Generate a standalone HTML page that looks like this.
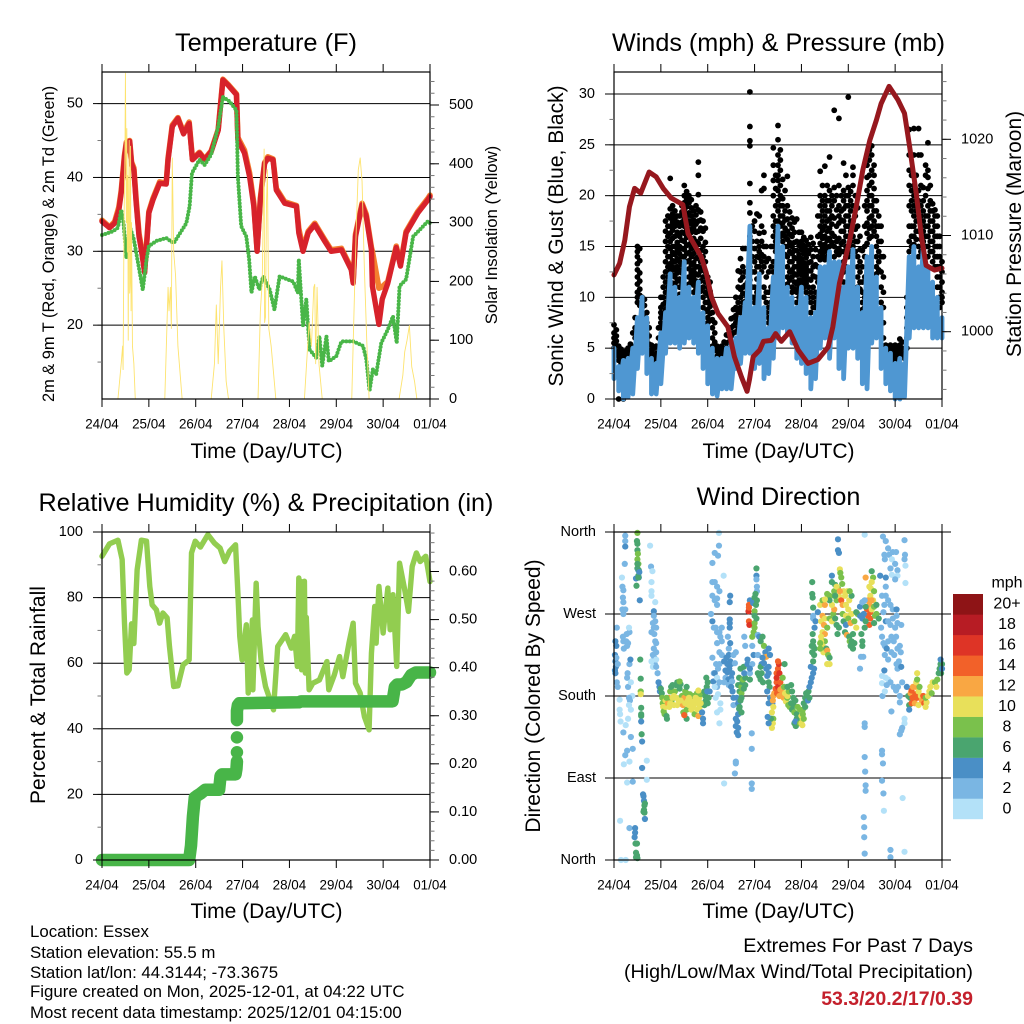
<!DOCTYPE html>
<html lang="en">
<head>
<meta charset="utf-8">
<title>Essex station meteogram</title>
<style>
html,body{margin:0;padding:0;background:#fff}
svg{display:block;font-family:"Liberation Sans",Arial,sans-serif;fill:#000}
</style>
</head>
<body>
<svg id="chart" xmlns="http://www.w3.org/2000/svg" width="1024" height="1024" viewBox="0 0 1024 1024">
<rect x="0" y="0" width="1024" height="1024" fill="#fff"/>
<text x="266" y="51" font-size="25.4" text-anchor="middle">Temperature (F)</text>
<text x="778.5" y="51" font-size="25.2" text-anchor="middle">Winds (mph) &amp; Pressure (mb)</text>
<text x="266" y="511" font-size="25.2" text-anchor="middle">Relative Humidity (%) &amp; Precipitation (in)</text>
<text x="778.5" y="505" font-size="25.2" text-anchor="middle">Wind Direction</text>
<text transform="translate(54,244) rotate(-90)" font-size="16.4" text-anchor="middle">2m &amp; 9m T (Red, Orange) &amp; 2m Td (Green)</text>
<text transform="translate(497,235) rotate(-90)" font-size="16.7" text-anchor="middle">Solar Insolation (Yellow)</text>
<text transform="translate(563,236) rotate(-90)" font-size="21" text-anchor="middle">Sonic Wind &amp; Gust (Blue, Black)</text>
<text transform="translate(1021,234) rotate(-90)" font-size="21" text-anchor="middle">Station Pressure (Maroon)</text>
<text transform="translate(45,695) rotate(-90)" font-size="21" text-anchor="middle">Percent &amp; Total Rainfall</text>
<text transform="translate(540,696) rotate(-90)" font-size="21" text-anchor="middle">Direction (Colored By Speed)</text>
<text x="266.5" y="458" font-size="21" text-anchor="middle">Time (Day/UTC)</text>
<text x="778.5" y="458" font-size="21" text-anchor="middle">Time (Day/UTC)</text>
<text x="266.5" y="918" font-size="21" text-anchor="middle">Time (Day/UTC)</text>
<text x="778.5" y="918" font-size="21" text-anchor="middle">Time (Day/UTC)</text>
<g font-size="16.85">
<text x="30" y="937">Location: Essex</text>
<text x="30" y="958">Station elevation: 55.5 m</text>
<text x="30" y="978">Station lat/lon: 44.3144; -73.3675</text>
<text x="30" y="997">Figure created on Mon, 2025-12-01, at 04:22 UTC</text>
<text x="30" y="1018">Most recent data timestamp: 2025/12/01 04:15:00</text>
</g>
<g text-anchor="end">
<text x="973" y="952" font-size="19.7">Extremes For Past 7 Days</text>
<text x="973" y="978" font-size="19.7">(High/Low/Max Wind/Total Precipitation)</text>
<text x="973" y="1005" font-size="19.5" font-weight="bold" fill="#c4202c">53.3/20.2/17/0.39</text>
</g>
</svg>
<script>
const dayLabels = ['24/04','25/04','26/04','27/04','28/04','29/04','30/04','01/04'];

const tempTicks = [20,30,40,50];
const solarTicks = [0,100,200,300,400,500];
const windTicks = [0,5,10,15,20,25,30];
const pressureTicks = [1000,1010,1020];
const humidityTicks = [0,20,40,60,80,100];
const rainTicks = [0,0.1,0.2,0.3,0.4,0.5,0.6];
const directionTicks = [0,90,180,270,360];
const directionLabels = ['North','East','South','West','North'];
const speedLabels = ['0','2','4','6','8','10','12','14','16','18','20+'];
const speedColors = ['#b3e1f8','#7ab6e3','#4a8fc6','#4aa56f','#7ac14c','#e8e05a','#f9a743','#f26129','#de3426','#b71c24','#8e1416'];

const redTime = [0,.16,.27,.36,.41,.48,.52,.59,.63,.68,.73,.79,.84,.91,.95,1,1.09,1.23,1.37,1.41,1.5,1.62,1.74,1.86,1.93,2.08,2.19,2.33,2.48,2.58,2.69,2.87,2.9,3.04,3.15,3.24,3.31,3.38,3.47,3.54,3.65,3.72,3.9,4.15,4.2,4.29,4.4,4.54,4.75,4.89,5.11,5.32,5.36,5.41,5.55,5.64,5.75,5.77,5.91,5.98,6.1,6.28,6.37,6.49,6.74,6.96,7];
const redTemp = [34.05,33.2,33.8,35.6,37.9,42.8,44.6,44.9,41.9,41,36.5,32,30.2,27.1,30.7,35.2,37,39.2,39.1,42.4,46.9,48,45.9,47.3,42.4,43.3,42.4,43.5,46.4,53.2,52.5,51.2,45.1,43.3,40.1,36.1,30,37,41.9,42.6,42.4,38.3,36.5,36.1,32.5,30,32.5,33.6,31.4,30,30.2,27.5,25.7,32,36.3,34.7,30.2,25.3,20.1,23.5,25.7,30.5,28,32.5,35.2,37,37.4];
const orangeTime = [0,.16,.27,.36,.41,.48,.52,.59,.63,.68,.73,.79,.84,.91,.95,1,1.09,1.23,1.37,1.41,1.5,1.62,1.74,1.86,1.93,2.08,2.19,2.33,2.48,2.58,2.69,2.87,2.9,3.04,3.15,3.24,3.31,3.38,3.47,3.54,3.65,3.72,3.9,4.15,4.2,4.29,4.4,4.54,4.75,4.89,5.11,5.32,5.36,5.41,5.55,5.64,5.75,5.77,5.91,5.98,6.1,6.28,6.37,6.49,6.74,6.96,7];
const orangeTemp = [34.2,33.3,34,36,38.2,43,44.8,45,42.1,41.3,36.9,32.4,30.5,27.4,30.9,35.4,37.2,39.4,39.2,42.6,47.1,48.1,46.1,47.5,42.5,43.4,42.5,43.6,46.5,53.3,52.6,51.3,45.4,43.7,40.6,36.5,30.3,37.2,42,42.8,42.5,38.5,36.7,36.2,33.1,30.3,32.7,33.8,31.6,30.2,30.4,27.7,25.9,32.3,36.5,35,30.5,30,25,25.2,25.9,30.7,28.2,32.7,35.4,37.2,37.6];
const dewTime = [0,.23,.34,.41,.46,.52,.59,.68,.77,.87,.95,1,1.16,1.37,1.53,1.69,1.8,1.87,1.92,2.08,2.19,2.33,2.48,2.58,2.72,2.87,2.9,2.97,3.08,3.14,3.19,3.26,3.36,3.44,3.58,3.68,3.79,4.08,4.18,4.2,4.29,4.36,4.43,4.57,4.64,4.7,4.79,4.84,5,5.11,5.36,5.57,5.64,5.71,5.78,5.85,5.96,6.1,6.21,6.29,6.35,6.49,6.64,6.78,6.96,7];
const dewTemp = [32.2,32.7,33.2,35.6,33.8,29.1,33.4,31.6,28.4,24.8,28.9,30.7,31.4,31.8,31.1,32.7,33.8,36.1,40.6,42.4,41.7,43.1,46.9,50.9,50.3,49.1,40.1,33.4,32,28.9,24.4,26.6,24.8,26.6,24.8,22.1,26.6,25.9,24.4,28.9,19.9,23.5,16.7,15.6,18.5,14.5,18.5,15.1,15.8,17.8,17.8,17.2,15.4,11.1,14,13.3,17.6,19.4,21.2,17.6,25.3,26.2,32,32.9,34.1,33.8];
const solarTime = [.34,.41,.44,.45,.47,.49,.5,.52,.53,.54,.55,.56,.57,.58,.59,.6,.61,.62,.63,.65,.68,.71,1.34,1.41,1.43,1.46,1.48,1.5,1.53,1.57,1.62,1.71,2.33,2.4,2.44,2.48,2.53,2.56,2.6,2.65,2.7,3.33,3.38,3.42,3.46,3.47,3.49,3.51,3.53,3.56,3.61,3.71,4.32,4.42,4.47,4.52,4.54,4.56,4.59,4.63,4.7,5.33,5.39,5.43,5.47,5.51,5.55,5.6,5.65,5.7,6.34,6.42,6.46,6.51,6.56,6.61,6.67,6.72,7];
const solarValue = [0,60,90,50,300,420,554,300,460,250,380,100,320,440,180,200,430,150,300,90,60,0,0,190,150,190,120,410,250,210,90,0,0,60,160,60,190,235,120,30,0,0,150,200,425,130,140,330,390,120,90,0,0,130,90,190,195,60,190,60,0,0,185,300,390,410,370,220,100,0,0,40,80,100,125,55,30,0,0];

const pressureTime = [0,.12,.23,.33,.44,.57,.75,.9,1.05,1.22,1.47,1.58,1.86,1.97,2.08,2.22,2.43,2.57,2.72,2.84,2.89,2.97,3.11,3.19,3.36,3.45,3.57,3.75,3.93,4.14,4.35,4.57,4.67,4.81,5.03,5.17,5.31,5.46,5.6,5.7,5.87,6.06,6.2,6.31,6.45,6.56,6.66,6.84,7];
const pressureValue = [1005.9,1007.1,1009.5,1013,1014.9,1014.4,1016.6,1016.1,1014.9,1013.9,1013.2,1010.2,1007.8,1006.1,1003.6,1001.9,1000.5,997.4,995.3,993.8,995,997.4,998.1,999,999.1,999.8,999,1000,998.1,996.7,997.1,998.4,1000.5,1005,1009.5,1013,1016.8,1019.9,1022,1023.7,1025.5,1024.1,1022.7,1019.2,1014.4,1009.9,1006.9,1006.4,1006.6];
const windColumnDays = 0.1;
const windHigh = [5,3.2,3.8,4,5,8,10,8,4,3.5,6.5,8.5,12.3,11,10,13.5,11,10,11.5,8.5,7.2,5,4,4,5,5.5,6,8,9.5,17,9,12.3,9,7,12,17,15,11,10,9,11,10,8,8.5,13,13,14.5,13.5,13.5,11,13,14.7,11,8.5,14,15,12,9,5,4.5,3.5,4,3.5,14,15,13,15,13,11.5,10,8];
const windLow = [2,.8,0,.2,.5,3,4.5,2.5,.5,.5,1.5,4.5,5.5,5.5,5,5.5,6,5.5,4.5,3,1.5,.5,.3,1,1,1,3,3.5,4.5,4.5,3,3.5,2,2.5,4,6,7,6.5,5.5,4,3.5,2.5,1,2,5,6,4,6,3,2,5,5,4,1.5,1,5.5,6,3,1.5,.8,0,0,.2,6,7,7,7,7,6,6,6];
const gustColumns = [
[7.3,6.5,6,5.5,5],[5.2,4.7,4.2,3.8,0],[4.5,4,3.5,0],[5,4.5,4,3.5],[6.5,5,4.5],
[15,14.5,14,13.3,12.7,12,11.3,10.5,10,9.5],[10,9.5,9,8.5,8,7.5],[8.5,7.5,6.5,5.8,5],[5.3,4.8,4.2,3.7],[5.2,4.5,4,3.5],
[10,9,8.5,8,7.5,7],[17.5,16.5,15.5,14.5,13.5,12.5,11.5,10.5,9.5,8.8],[21.7,18.7,17.8,17,16.3,15.5,14.8,14,13.3,12.6],[18.5,17.8,17,16,15,14.2,13.5,12.7,12,11.3],[18,17,16,15,14.3,13.5,12.7,11.8,11,10.3],
[21,20,19.3,18.6,17.7,17,16.3,15.5,14.7,14],[20,19.3,18.3,17.5,16.7,16,15.2,14.4,13.6,12.8,12,11.3],[18.5,17.6,16.8,15.8,15,14.3,13.4,12.7,12,11.2,10.5],[23.3,22,20.1,18.6,17.5,16.5,15.3,14,13,12.2],[17.5,16.5,15,14,13,12,11,10,9],
[12,11,10.3,9.5,8.8,8,7.5],[9.5,8.5,7.8,7,6,5.2],[5.2,4.7,4.2,3.6,3.2],[5.2,4.6,4],[6.3,5.5,5],
[7.9,7,6.2],[10,9,8.2,7.5,6.6],[13.8,12.5,11.7,10.8,10,9,8.5],[14.8,12.5,11.2,10.3,9.6],[30.2,26.8,25.4,24.9,21.2,19.3,18.3,16,15,13,11.7],
[17.5,16.5,14.8,13.5,12.5,11,10,9.5],[18,16.3,15,14.5,13.9,13],[22,20.7,16.4,15,14,13,11,10],[13.8,12.5,10.5,9,8,7.5],[24.7,23,21.5,20,18,17,16,15,13.5,12.5],
[26.9,25.5,24,23,22,21.5,20.5,19.5,18.5,17.5],[21.6,19.7,19,18,17.3,16.3,15.5],[21.9,19,17.7,16.5,15.7,15,14,13,12,11.3],[17.8,16.8,16,15,14.3,13.5,12.7,12,11,10.5],[17.7,15.5,14.6,13.8,13,12.2,11.3,10.5,9.5],
[16.4,15.5,14.7,13.8,13,12.2,11.4],[15.6,14.7,13.9,13,12.2,11.4,10.5],[15.9,14.7,13.5,12.6,11.7,10.5,9.5,8.5],[14.7,13.2,12,10.5,9.5,9],[22.4,20,19,18,17,16.2,15.3,14.5,13.7],
[22.9,20,19,18,17,16,15.2,14.5,13.7],[23.8,20.5,19.5,18.5,17.7,16.8,15.8,15],[28.4,20.8,19.5,17.8,16,15,14],[27.6,21,19,18,17.3,15.8,14.8,14.2],[23.2,20.5,19.5,18.7,17.5,16.5,15.5,14.5,13.5,12.5,11.5],
[29.7,20.8,20,19,18,17,16,15,14],[22.8,22,21,19,17.5,16,15],[18.8,17,15.5,14,13,12,11,10.5],[14.6,13,11.5,10.5,9.5,8.8],[24,23,21.8,20.5,19.5,18.5,17.3,16.3,15.3],
[24.9,24,22.5,21.3,20,19,18,17,16],[19.5,18.5,17,16,15,14,13,12.3],[17,15.5,14,12.5,11,9.5],[5.3,4.8,4.2,3.6],[5.3,4.6,4],
[5.3,4.6,4],[5.9,5.3,4.7],[4.5,4],[26.5,24,22.5,21,19,17,15.5,14.5],[26.6,24,21,20,19,18,17,16,15.2],
[26.6,24,20.5,19.5,18,16.5,15,14],[20.8,19.5,18.5,17.5,16.5,15.5],[25.2,22.5,21.8,20.7,19,18,17,16,15,14],[19.2,18.5,17.5,16.5,15.5,14.5,13.5],[18,17,16,15,14,13,12,11],
[13.5,12.5,11.5,10.5,10,9.5]
];
/* Gust readings falling half-way between the columns above */
const gustMidColumns = [
[6.8,6.2,5.7,5.2,4.6],[4.9,4.4,3.9,3.4],[4.7,4.2,3.7,3.2],[5.4,4.6,3.9],[8,7,6,5.2],
[14.8,13.6,12.4,11.6,10.8,10.2,9.2],[9.8,9.2,8.2,7.2,6.6],[7,6.2,5.4,4.6],[5,4.4,3.9],[7,6,5,4.2],
[12,11,10,9.3,8.3,7.3],[18,17,16,15,14,13,12,11,10,9],[19,18.2,17.4,16.6,15.8,15,14.4,13.6,13,12.2,11.4],[18,17.4,16.4,15.4,14.6,13.8,13,12.4,11.6],[19,18.4,17.4,16.4,15.6,14.8,14,13.2,12.4,11.4],
[20.4,19.6,18.9,18,17.3,16.6,15.9,15.1,14.3,13.5],[19.6,18.8,18,17.2,16.4,15.6,14.8,14,13.2,12.4,11.6],[19,18.1,17.2,16.4,15.5,14.7,13.8,13,12.3,11.6,10.8],[18.4,17.6,16.8,15.8,14.6,13.5,12.6,11.6,10.6],[16.8,15.4,14.5,13.5,12.5,11.5,10.5,9.5,8.6],
[11.5,10.6,9.9,9.1,8.4,7.7],[7.5,6.5,5.6,4.8],[5,4.4,3.8],[5.6,4.9,4.3],[7,6.2,5.6],
[8.8,8,7.2,6.5],[12.6,11,9.5,8.6,7.8,7],[14.8,13,12,11,10.4,9.5,8.8],[12.5,11.5,10.7,10,9.2],[17,15.5,14,12.5,11,10],
[18.2,15.5,14,13,11.8,10.5,9.8],[20.5,17,15.5,14.2,13.5,12.5],[15,13.5,12,10.5,9.5,8.5],[15,13,11,9.5,8.5,7.6],[22,20.7,19,17.5,16.5,15.5,14.5,13],
[24.5,23.5,22.5,21,20,19,18,17,16],[20.5,18.5,17.6,16.8,16,15,14.2],[18.4,17.2,16.2,15.4,14.5,13.5,12.5,11.7],[17.4,16.4,15.4,14.6,13.9,13,12.3,11.5,10.8],[16.4,15.1,14.2,13.4,12.6,11.7,10.9,10],
[15.9,15.1,14.3,13.4,12.6,11.8,11],[15.2,14.3,13.4,12.6,11.8,11,10],[15.3,14,13,12.1,11,10,9],[18,16,14,13,11.5,10,9.3],[21,19.5,18.5,17.5,16.6,15.8,14.9,14.1],
[21,19.5,18.5,17.5,16.5,15.6,14.8,14],[20,19,18,17.2,16.3,15.4],[20,18.6,17,15.5,14.5],[20,18.5,17.6,16.5,15.3,14.5],[22,20,19,18,17,16,15,14,13],
[20.4,19.5,18.5,17.5,16.5,15.5,14.5],[20,18,16.7,15.5,14.5],[16,14.7,13.5,12.5,11.5,10.8],[19,17,15,14,12,10,9],[24.5,23.5,22,21,20,19,17.8,16.8,15.8],
[23,22,20.7,19.5,18.5,17.5,16.5],[18,17,15.5,14.5,13.5,12.7],[14,12,10.5,9,7.5,6],[5,4.5,3.9],[5,4.3,3.7],
[5,4.4,3.8],[5.6,5,4.4],[10,9,8,7,6,5],[24,22,20.5,19.5,18.5,17,16,15],[22,20.5,19.5,18.5,17.5,16.5,15.7],
[24,21,19,18,17,15.7,14.5],[23,22,20,18,17,16,15],[21,19.5,18.5,17.5,16.5,15.5,14.5],[18.6,18,17,16,15,14,13],[16,15,14,13,12,11,10,9]
];

const humidityTime = [0,.16,.34,.43,.48,.53,.58,.63,.68,.75,.84,.95,1.02,1.07,1.16,1.23,1.3,1.39,1.44,1.53,1.62,1.73,1.86,1.91,1.99,2.1,2.26,2.4,2.52,2.62,2.72,2.85,2.9,2.94,2.99,3.08,3.12,3.21,3.22,3.29,3.33,3.4,3.49,3.66,3.75,3.92,4.04,4.11,4.17,4.2,4.22,4.24,4.26,4.28,4.3,4.32,4.34,4.36,4.42,4.5,4.64,4.8,4.84,4.96,5.07,5.14,5.27,5.36,5.41,5.51,5.6,5.7,5.75,5.82,5.85,5.91,6,6.1,6.15,6.21,6.29,6.35,6.46,6.54,6.62,6.71,6.79,6.91,7];
const humidityValue = [92.6,96.4,97.5,91.6,72.2,57,58,72,66,88.5,97.5,97.2,83.4,77.8,76.3,72.2,75.3,73.8,65.1,52.9,53.1,59.5,61,93.6,97.2,95.4,99.2,96.6,95.1,91,94.1,96.1,81.4,68.2,61,71.7,50.9,73.2,51.9,84.4,71.2,60,52.9,45.8,65.1,68.7,64.6,68.2,59,86,60,85,58,84,60,85,57,74,51.9,53.9,54.9,60.5,51.9,56.5,62,55.9,66.1,72.2,53.9,50.9,43.7,39.7,63,77.3,66.1,83.4,69.2,82.9,70.2,80.9,59,90.5,82.4,75.8,89.5,93.6,91,92.6,84.9];
const rainTime = [0,1.86,1.9,1.94,1.98,2.02,2.1,2.2,2.5,2.53,2.56,2.85,2.87,2.88,null,2.88,null,2.88,null,2.88,2.88,2.9,2.93,3,4.2,4.25,6.2,6.25,6.3,6.4,6.5,6.6,6.7,7];
const rainTotal = [0,0,.03,.09,.13,.133,.138,.146,.146,.175,.178,.178,.19,.205,null,.224,null,.255,null,.291,.31,.322,.326,.326,.328,.33,.33,.36,.365,.365,.37,.385,.39,.39];

/* Direction observations: [day offset, degrees, speed mph] */
const directionDay0 = [[.17,310,1],[.18,300,3],[.2,296,3],[.19,288,3],[.2,283,3],[.18,275,3],[.2,270,3],[.24,275,3],[.24,356,3],[.24,350,3],[.24,344,5],[.23,325,3],[.06,255,3],[.03,240,5],[.05,235,5],[.02,225,5],[.03,218,5],[.04,212,5],[.02,208,5],[.05,222,3],[.03,205,5],[.08,215,3],[.06,195,3],[.08,190,3],[.12,176,1],[.12,165,1],[.13,160,1],[.14,152,1],[.19,245,3],[.2,240,3],[.21,232,3],[.27,248,3],[.26,240,3],[.28,235,3],[.3,238,3],[.33,250,3],[.32,255,1],[.33,215,3],[.35,220,5],[.29,205,3],[.28,200,3],[.3,190,3],[.36,195,1],[.39,180,1],[.32,178,3],[.34,175,3],[.32,170,1],[.36,165,1],[.3,155,1],[.25,148,1],[.2,140,3],[.36,135,3],[.28,120,3],[.24,115,3],[.4,122,3],[.33,108,1],[.21,105,1],[.28,85,1],[.4,86,3],[.13,43,1],[.33,35,3],[.45,35,5],[.45,30,5],[.44,25,5],[.46,18,7],[.49,18,7],[.47,8,7],[.49,5,7],[.47,3,7],[.5,2,7],[.15,0,1],[.25,0,1],[.5,359,9],[.5,347,7],[.5,340,7],[.49,350,7],[.51,336,9],[.5,330,9],[.52,325,9],[.5,320,7],[.5,325,7],[.52,318,5],[.52,312,7],[.53,318,7],[.54,316,5],[.53,310,5],[.47,309,5],[.52,310,7],[.48,301,7],[.55,285,5],[.56,220,7],[.57,199,7],[.57,185,9],[.57,182,11],[.58,167,7],[.58,160,7],[.58,158,7],[.58,152,5],[.59,138,7],[.6,130,5],[.6,101,5],[.62,72,5],[.63,70,5],[.64,65,5],[.65,60,7],[.66,62,7],[.64,55,7],[.65,52,7],[.63,53,7],[.66,45,5],[.7,109,1],[.7,88,1],[.77,345,1],[.79,322,3],[.82,317,1],[.8,305,1],[.8,295,1],[.8,290,1],[.88,283,1],[.85,273,5],[.85,268,3],[.83,260,3],[.88,262,3],[.85,255,3],[.9,255,3],[.86,248,3],[.8,250,3],[.88,240,3],[.9,238,3],[.85,232,3],[.86,222,3],[.83,225,3],[.9,228,3],[.87,215,3],[.9,220,1],[.8,218,1],[.83,212,1],[.9,212,3],[.93,205,3],[.95,195,5],[.97,190,5],[.98,185,5]];
const directionDay1 = [[1,188,7],[1.02,183,7],[1.03,178,9],[1.04,172,9],[1.05,168,11],[1.06,163,9],[1.08,160,9],[1.1,175,11],[1.1,168,11],[1.12,158,7],[1.13,155,7],[1.15,172,13],[1.17,178,13],[1.18,168,11],[1.2,185,9],[1.22,190,7],[1.23,175,9],[1.25,178,11],[1.28,170,11],[1.3,185,9],[1.32,192,7],[1.33,178,11],[1.35,170,11],[1.38,175,11],[1.4,188,7],[1.42,193,7],[1.45,180,9],[1.47,170,13],[1.48,162,9],[1.5,178,13],[1.52,172,11],[1.52,185,9],[1.55,165,9],[1.55,155,7],[1.5,160,9],[1.58,175,11],[1.6,170,11],[1.62,182,9],[1.65,165,11],[1.66,175,11],[1.7,180,9],[1.7,170,11],[1.72,160,9],[1.75,175,11],[1.77,183,9],[1.78,165,11],[1.8,158,13],[1.82,178,11],[1.83,168,11],[1.85,182,9],[1.87,172,9],[1.88,162,5],[1.9,155,5],[1.9,150,5],[1.93,185,7],[1.95,180,7],[1.96,175,7],[1.98,190,7],[1.97,200,7],[1.99,185,5],[1.93,170,7],[1.25,192,7],[1.35,195,7],[1.4,196,9],[1.55,190,7],[1.55,183,9],[1.8,186,11],[1.12,178,9],[1.2,172,11],[1.28,180,11],[1.42,175,11],[1.6,178,11],[1.68,168,11],[1.74,178,11],[1.8,172,11],[1.85,172,11],[1.5,159,15]];
const directionDay2 = [[2,195,7],[2.02,178,7],[2.04,185,5],[2,172,7],[2.1,326,3],[2.15,337,3],[2.22,334,3],[2.24,345,3],[2.24,359,1],[2.34,312,1],[2.1,305,3],[2.15,305,3],[2.2,300,3],[2.1,290,3],[2.15,285,3],[2.2,280,3],[2.2,287,3],[2.25,295,3],[2.07,270,3],[2.1,262,5],[2.13,255,3],[2.17,255,3],[2.2,250,3],[2.25,250,3],[2.3,255,3],[2.27,245,3],[2.2,238,3],[2.3,240,3],[2.25,228,3],[2.3,225,3],[2.1,222,3],[2.18,215,3],[2.22,210,3],[2.25,215,3],[2.13,205,3],[2.12,196,5],[2.15,205,5],[2.2,200,1],[2.25,195,3],[2.22,182,1],[2.2,190,3],[2.15,190,1],[2.17,178,1],[2.48,290,5],[2.47,283,5],[2.47,264,5],[2.47,260,5],[2.47,255,5],[2.43,245,3],[2.35,218,5],[2.4,222,5],[2.42,215,5],[2.45,225,5],[2.48,218,5],[2.5,215,5],[2.38,208,5],[2.42,206,5],[2.46,210,5],[2.52,205,5],[2.38,200,3],[2.44,198,5],[2.5,200,5],[2.35,195,3],[2.45,192,3],[2.52,196,3],[2.45,232,3],[2.48,238,5],[2.55,225,3],[2.6,228,3],[2.58,216,3],[2.5,190,5],[2.53,185,5],[2.55,178,5],[2.55,170,3],[2.27,172,1],[2.2,162,1],[2.27,165,1],[2.25,150,1],[2.65,192,7],[2.67,200,7],[2.7,210,7],[2.68,185,7],[2.72,190,9],[2.74,195,7],[2.72,183,9],[2.75,198,9],[2.77,188,7],[2.8,192,7],[2.8,200,7],[2.77,212,7],[2.78,205,5],[2.62,178,5],[2.65,172,5],[2.67,166,7],[2.7,175,7],[2.65,160,5],[2.68,168,7],[2.72,178,7],[2.72,162,7],[2.6,155,5],[2.63,152,5],[2.6,147,5],[2.65,145,5],[2.62,140,5],[2.65,137,5],[2.6,108,3],[2.6,106,3],[2.58,95,3],[2.94,139,3],[2.94,122,3],[2.94,84,3],[2.94,78,3],[2.35,84,1],[2.9,285,5],[2.88,280,15],[2.87,273,17],[2.88,277,15],[2.88,262,15],[2.89,258,17],[2.95,245,9],[2.98,250,9],[2.95,235,3],[2.78,245,3],[2.8,235,3],[2.85,220,5],[2.85,215,5],[2.98,225,5],[2.95,215,3],[2.9,205,3],[2.9,198,7],[2.9,210,5],[3,288,7],[3,273,9],[2.97,282,5],[3,268,7],[3,255,9],[3,260,9]];
const directionDay3 = [[3.04,320,7],[3.04,312,5],[3.04,308,3],[3.05,300,3],[3.05,295,3],[3.03,280,7],[3.05,285,7],[3.02,292,7],[3.04,265,7],[3.07,247,3],[3.1,245,5],[3.13,240,7],[3.17,245,7],[3.2,235,9],[3.23,228,5],[3.2,222,13],[3.25,223,13],[3.15,215,5],[3.07,225,3],[3.17,222,5],[3.13,212,7],[3.2,216,5],[3.3,232,5],[3.33,225,5],[3.07,205,7],[3.1,202,7],[3.15,205,7],[3.18,195,7],[3.13,198,7],[3.25,210,5],[3.3,212,5],[3.27,202,5],[3.3,205,5],[3.3,195,7],[3.32,190,7],[3.27,185,5],[3.33,178,5],[3.3,172,5],[3.38,172,5],[3.39,175,13],[3.4,168,11],[3.37,162,11],[3.4,155,9],[3.39,150,11],[3.37,145,11],[3.35,155,7],[3.3,150,5],[3.28,157,5],[3.4,180,13],[3.42,183,13],[3.45,188,15],[3.47,195,15],[3.5,190,17],[3.48,183,15],[3.55,187,13],[3.53,180,13],[3.47,205,15],[3.5,210,15],[3.52,215,17],[3.5,218,15],[3.53,205,17],[3.47,200,17],[3.55,195,15],[3.58,188,13],[3.6,182,13],[3.62,178,13],[3.65,183,11],[3.63,190,9],[3.67,174,11],[3.7,178,9],[3.72,170,9],[3.7,180,11],[3.73,185,9],[3.7,190,7],[3.64,215,7],[3.6,200,9],[3.75,168,9],[3.78,172,7],[3.8,165,7],[3.83,170,7],[3.85,162,9],[3.87,175,7],[3.9,160,7],[3.92,168,9],[3.95,155,11],[3.97,165,9],[3.85,150,7],[3.9,155,7],[3.88,147,7],[3.87,152,5],[3.97,150,9],[3.78,192,7],[3.8,185,7],[3.83,178,7]];
const directionDay4 = [[4,150,11],[4,158,11],[4.02,148,11],[4.03,165,9],[4.05,172,7],[4.08,178,7],[4.1,183,7],[4.12,180,7],[4.14,175,5],[4.15,185,7],[4.17,190,5],[4.08,168,7],[4.03,160,9],[4.05,155,9],[4.17,178,7],[4.2,195,5],[4.22,200,5],[4.25,205,5],[4.27,210,5],[4.2,212,5],[4.25,218,7],[4.27,225,7],[4.23,228,7],[4.28,232,7],[4.22,235,7],[4.25,240,7],[4.24,248,7],[4.25,235,7],[4.23,305,7],[4.23,292,7],[4.24,288,7],[4.25,277,7],[4.25,265,3],[4.25,268,3],[4.28,255,5],[4.3,262,5],[4.35,272,5],[4.4,280,11],[4.45,285,9],[4.5,280,13],[4.45,268,13],[4.5,265,11],[4.42,262,11],[4.48,258,13],[4.45,250,11],[4.5,248,13],[4.42,245,11],[4.5,240,9],[4.45,235,11],[4.42,240,11],[4.5,232,11],[4.4,238,9],[4.47,228,11],[4.4,232,9],[4.53,232,7],[4.55,230,13],[4.55,215,11],[4.57,225,9],[4.6,222,7],[4.6,215,11],[4.55,255,9],[4.6,265,9],[4.65,262,11],[4.68,270,9],[4.7,275,13],[4.65,280,11],[4.6,290,9],[4.55,292,9],[4.6,285,7],[4.7,290,9],[4.75,285,9],[4.72,265,7],[4.75,258,7],[4.8,255,7],[4.77,248,7],[4.5,286,11],[4.65,312,5],[4.65,305,7],[4.72,302,7],[4.78,298,9],[4.7,295,9],[4.8,290,11],[4.75,300,11],[4.72,290,7],[4.82,319,11],[4.83,315,9],[4.85,310,9],[4.87,303,9],[4.9,295,11],[4.82,295,13],[4.85,285,15],[4.88,280,13],[4.93,290,11],[4.95,280,11],[4.88,270,9],[4.9,262,7],[4.95,268,11],[4.98,295,11],[4.93,250,7],[4.95,258,5],[4.97,247,13],[4.78,352,5],[4.78,340,5],[4.8,337,5]];
const directionDay5 = [[5,275,11],[5.02,285,11],[5.07,290,7],[5.03,295,9],[5.07,270,11],[5,265,9],[5.05,260,13],[5.02,245,7],[5.03,240,9],[5.05,235,7],[5.07,240,7],[5.1,232,7],[5.13,238,7],[5.1,248,7],[5.13,262,9],[5.17,255,11],[5.2,270,9],[5.25,268,5],[5.17,272,7],[5.25,278,5],[5.28,248,7],[5.3,240,7],[5.3,235,7],[5.27,223,3],[5.32,223,3],[5.25,210,3],[5.37,310,13],[5.5,317,7],[5.53,310,9],[5.5,305,11],[5.48,298,11],[5.55,295,9],[5.45,300,11],[5.47,290,11],[5.53,285,11],[5.42,285,13],[5.5,285,13],[5.4,275,15],[5.47,272,15],[5.45,280,13],[5.42,268,15],[5.47,265,15],[5.45,258,15],[5.5,275,11],[5.55,278,9],[5.57,268,9],[5.6,270,9],[5.65,265,7],[5.6,280,7],[5.55,260,7],[5.37,278,7],[5.3,265,5],[5.33,270,5],[5.35,255,7],[5.37,262,7],[5.35,285,3],[5.3,283,3],[5.68,312,5],[5.77,335,3],[5.78,330,3],[5.87,335,3],[5.85,342,3],[5.9,320,3],[5.93,330,1],[5.95,338,3],[5.74,355,3],[5.8,350,3],[5.93,313,1],[5.8,310,5],[5.8,300,3],[5.8,290,3],[5.72,290,3],[5.77,280,3],[5.85,285,3],[5.9,280,3],[5.95,275,3],[5.75,272,3],[5.8,262,5],[5.85,262,3],[5.9,258,3],[5.95,265,3],[5.7,255,3],[5.72,245,3],[5.75,238,3],[5.78,235,3],[5.82,232,5],[5.85,240,3],[5.92,245,3],[5.97,240,3],[5.78,225,3],[5.85,220,3],[5.92,228,3],[5.98,225,3],[5.72,202,1],[5.77,208,5],[5.8,200,1],[5.85,198,1],[5.72,194,1],[5.82,192,3],[5.9,195,3],[5.97,190,3],[5.73,180,3],[5.78,185,1],[5.92,163,3],[5.35,357,1],[5.35,150,3],[5.35,146,3],[5.35,113,3],[5.36,97,3],[5.37,82,3],[5.37,76,3],[5.33,47,3],[5.34,36,3],[5.34,25,3],[5.35,7,3],[5.72,120,3],[5.72,116,3],[5.74,106,3],[5.72,87,3],[5.75,73,3],[5.76,54,1],[5.9,11,3],[5.9,3,3]];
const directionDay6 = [[6.02,338,3],[6,325,3],[6.05,318,3],[6.05,312,1],[6.2,351,3],[6.21,335,3],[6.2,330,3],[6.22,323,1],[6.22,304,1],[6,308,3],[6.03,275,5],[6.03,268,3],[6,255,3],[6.05,260,3],[6.13,258,3],[6.02,245,3],[6.05,232,3],[6.1,235,3],[6.12,228,3],[6.03,215,3],[6.08,218,3],[6.05,210,3],[6.13,212,5],[6.02,186,3],[6.06,190,3],[6.1,180,3],[6.15,195,3],[6.1,173,3],[6.2,155,1],[6.2,150,1],[6.13,142,3],[6.1,138,3],[6.15,145,3],[6.16,68,1],[6.2,9,1],[6.25,190,5],[6.28,180,7],[6.3,170,7],[6.3,165,5],[6.32,178,7],[6.33,183,13],[6.35,186,15],[6.37,178,15],[6.35,172,15],[6.38,190,13],[6.4,175,15],[6.43,182,15],[6.45,190,13],[6.42,172,13],[6.47,178,15],[6.45,195,11],[6.47,205,11],[6.47,198,9],[6.5,185,11],[6.5,170,11],[6.55,180,11],[6.52,190,9],[6.57,175,13],[6.6,180,15],[6.62,172,15],[6.65,168,11],[6.67,173,11],[6.65,178,9],[6.7,180,11],[6.73,185,11],[6.75,190,11],[6.8,195,11],[6.78,183,9],[6.85,195,9],[6.88,190,11],[6.9,198,9],[6.93,205,7],[6.95,210,7],[6.97,215,7],[6.98,205,7],[7,215,7],[6.97,220,5],[7,210,5]];

const svg = document.getElementById('chart');
const NS = 'http://www.w3.org/2000/svg';

function make(tag, parent, name, props) {
  const el = document.createElementNS(NS, tag);
  
  
  for (const key in props) el.setAttribute(key, props[key]);
  parent.appendChild(el);
  return el;
}
function linear(d0, d1, r0, r1) {
  return v => r0 + (v - d0) * (r1 - r0) / (d1 - d0);
}
function linePath(xs, ys, sx, sy) {
  let d = '';
  let pen = false;
  for (let i = 0; i < xs.length; i++) {
    if (xs[i] === null || ys[i] === null) { pen = false; continue; }
    const nextGap = i + 1 >= xs.length || xs[i + 1] === null;
    d += (pen ? 'L' : 'M') + sx(xs[i]).toFixed(2) + ' ' + sy(ys[i]).toFixed(2);
    if (!pen && nextGap) d += 'L' + sx(xs[i]).toFixed(2) + ' ' + sy(ys[i]).toFixed(2);
    pen = true;
  }
  return d;
}
function series(parent, name, xs, ys, sx, sy, style) {
  return make('path', parent, name, Object.assign({ d: linePath(xs, ys, sx, sy), fill: 'none', 'stroke-linejoin': 'round', 'stroke-linecap': 'round' }, style));
}
function hTick(parent, name, x1, x2, y) {
  make('line', parent, name, { x1: x1, x2: x2, y1: y, y2: y, stroke: '#000', 'stroke-width': 1 });
}
function label(parent, name, x, y, text, anchor, size) {
  const t = make('text', parent, name, { x: x, y: y, 'font-size': size, 'text-anchor': anchor, 'dominant-baseline': 'central' });
  t.textContent = text;
}
function frame(parent, box, name) {
  make('rect', parent, name + '-frame', { x: box.x0, y: box.y0, width: box.x1 - box.x0, height: box.y1 - box.y0, fill: 'none', stroke: '#000', 'stroke-width': 1.2 });
}
function timeAxis(parent, box, name) {
  const g = make('g', parent, name + '-time-axis', {});
  const sx = linear(0, 7, box.x0, box.x1);
  dayLabels.forEach((lab, i) => {
    const x = sx(i);
    make('line', g, name + '-top-tick', { x1: x, x2: x, y1: box.y0 - 8, y2: box.y0, stroke: '#000', 'stroke-width': 1 });
    make('line', g, name + '-bottom-tick', { x1: x, x2: x, y1: box.y1, y2: box.y1 + 8, stroke: '#000', 'stroke-width': 1 });
    label(g, name + '-day-label', x, box.y1 + 25, lab, 'middle', 13.4);
  });
}
function valueAxis(parent, box, name, side, ticks, scale, format, minorStep, lo, hi) {
  const g = make('g', parent, name + '-axis', {});
  const left = side === 'left';
  const base = left ? box.x0 : box.x1;
  const dir = left ? -1 : 1;
  for (let v = lo; v <= hi + 1e-9; v += minorStep) {
    const y = scale(v);
    if (y < box.y0 - 1 || y > box.y1 + 1) continue;
    make('line', g, name + '-minor-tick', { x1: base, x2: base + dir * 4.5, y1: y, y2: y, stroke: '#777', 'stroke-width': 1 });
  }
  ticks.forEach(v => {
    const y = scale(v);
    hTick(g, name + '-major-tick', base, base + dir * 9, y);
    label(g, name + '-tick-label', base + dir * 19, y, format(v), left ? 'end' : 'start', 14.5);
  });
}
function grid(parent, box, ticks, scale, name) {
  const g = make('g', parent, name + '-gridlines', {});
  ticks.forEach(v => hTick(g, name + '-gridline', box.x0, box.x1, scale(v)));
}
const panelA = { x0: 102, x1: 430, y0: 72, y1: 399 };
const panelB = { x0: 614, x1: 942, y0: 72, y1: 399 };
const panelC = { x0: 102, x1: 430, y0: 532, y1: 860 };
const panelD = { x0: 614, x1: 942, y0: 532, y1: 860 };

/* Temperature panel */
{
  const g = make('g', svg, 'temperature-panel', {});
  const sx = linear(0, 7, panelA.x0, panelA.x1);
  const sy = linear(10, 50, 399, 103.6);
  const sSolar = linear(0, 500, 399, 105);
  grid(g, panelA, tempTicks, sy, 'temperature');
  series(g, 'temperature-9m-line', orangeTime, orangeTemp, sx, sy, { stroke: '#f47f2f', 'stroke-width': 5.6 });
  series(g, 'temperature-2m-line', redTime, redTemp, sx, sy, { stroke: '#d7222b', 'stroke-width': 5.4 });
  series(g, 'dewpoint-dotted-line', dewTime, dewTemp, sx, sy, { stroke: '#49b648', 'stroke-width': 4, 'stroke-dasharray': '0 3.4' });
  series(g, 'solar-insolation-line', solarTime, solarValue, sx, sSolar, { stroke: '#fde36e', 'stroke-width': 0.9 });
  frame(g, panelA, 'temperature');
  timeAxis(g, panelA, 'temperature');
  valueAxis(g, panelA, 'temperature', 'left', tempTicks, sy, v => String(v), 5, 15, 50);
  valueAxis(g, panelA, 'solar', 'right', solarTicks, sSolar, v => String(v), 20, 0, 560);
}

/* Winds panel */
{
  const g = make('g', svg, 'winds-panel', {});
  const sx = linear(0, 7, panelB.x0, panelB.x1);
  const sy = linear(0, 30, 399, 94);
  const sp = linear(1000, 1020, 331.7, 139.3);
  grid(g, panelB, windTicks, sy, 'winds');
  const gusts = make('g', g, 'gust-points', { fill: '#000' });
  gustColumns.forEach((col, i) => {
    col.forEach(v => {
      make('circle', gusts, 'gust-point', { cx: sx(i * windColumnDays), cy: sy(v), r: 2.9 });
    });
  });
  gustMidColumns.forEach((col, i) => {
    col.forEach(v => {
      make('circle', gusts, 'gust-point', { cx: sx((i + 0.5) * windColumnDays), cy: sy(v), r: 2.9 });
    });
  });
  const zigT = [];
  const zigV = [];
  windHigh.forEach((v, i) => {
    zigT.push(i * windColumnDays, i * windColumnDays);
    zigV.push(v, windLow[i]);
  });
  series(g, 'sonic-wind-line', zigT, zigV, sx, sy, { stroke: '#4f97d2', 'stroke-width': 4.8 });
  series(g, 'station-pressure-line', pressureTime, pressureValue, sx, sp, { stroke: '#96181e', 'stroke-width': 5 });
  frame(g, panelB, 'winds');
  timeAxis(g, panelB, 'winds');
  valueAxis(g, panelB, 'wind', 'left', windTicks, sy, v => String(v), 2.5, 2.5, 30);
  valueAxis(g, panelB, 'pressure', 'right', pressureTicks, sp, v => String(v), 2, 994, 1026);
}

/* Humidity panel */
{
  const g = make('g', svg, 'humidity-panel', {});
  const sx = linear(0, 7, panelC.x0, panelC.x1);
  const sy = linear(0, 100, 860, 532);
  const sr = linear(0, 0.6, 860, 571.5);
  grid(g, panelC, humidityTicks, sy, 'humidity');
  series(g, 'relative-humidity-line', humidityTime, humidityValue, sx, sy, { stroke: '#92cd50', 'stroke-width': 5.4 });
  series(g, 'total-rainfall-line', rainTime, rainTotal, sx, sr, { stroke: '#48b548', 'stroke-width': 12.5 });
  frame(g, panelC, 'humidity');
  timeAxis(g, panelC, 'humidity');
  valueAxis(g, panelC, 'humidity', 'left', humidityTicks, sy, v => String(v), 10, 10, 90);
  valueAxis(g, panelC, 'rainfall', 'right', rainTicks, sr, v => v.toFixed(2), 0.02, 0, 0.68);
}

/* Wind direction panel */
{
  const g = make('g', svg, 'direction-panel', {});
  const sx = linear(0, 7, panelD.x0, panelD.x1);
  const sy = linear(0, 360, 860, 532);
  grid(g, panelD, directionTicks, sy, 'direction');
  const dots = make('g', g, 'direction-points', {});
  [directionDay0, directionDay1, directionDay2, directionDay3, directionDay4, directionDay5, directionDay6].forEach(day => {
    day.forEach(row => {
      const bin = Math.min(speedColors.length - 1, Math.floor(row[2] / 2));
      make('circle', dots, 'direction-point', { cx: sx(row[0]), cy: sy(row[1]), r: 3.1, fill: speedColors[bin] });
    });
  });
  frame(g, panelD, 'direction');
  timeAxis(g, panelD, 'direction');
  const axis = make('g', g, 'direction-axis', {});
  directionTicks.forEach((v, i) => {
    const y = sy(v);
    hTick(axis, 'direction-left-tick', panelD.x0 - 9, panelD.x0, y);
    hTick(axis, 'direction-right-tick', panelD.x1, panelD.x1 + 9, y);
    label(axis, 'direction-tick-label', panelD.x0 - 18, y, directionLabels[i], 'end', 14.5);
  });
  const legend = make('g', g, 'speed-legend', {});
  const boxH = 225 / speedColors.length;
  const legendY = linear(0, speedColors.length, 819, 594);
  speedColors.forEach((c, i) => {
    make('rect', legend, 'speed-legend-box', { x: 953, y: legendY(i + 1), width: 30, height: boxH + 0.2, fill: c });
    label(legend, 'speed-legend-label', 1007, legendY(i + 0.5), speedLabels[i], 'middle', 16);
  });
  label(legend, 'speed-legend-unit', 1007, 583, 'mph', 'middle', 16);
}
</script>
</body>
</html>
